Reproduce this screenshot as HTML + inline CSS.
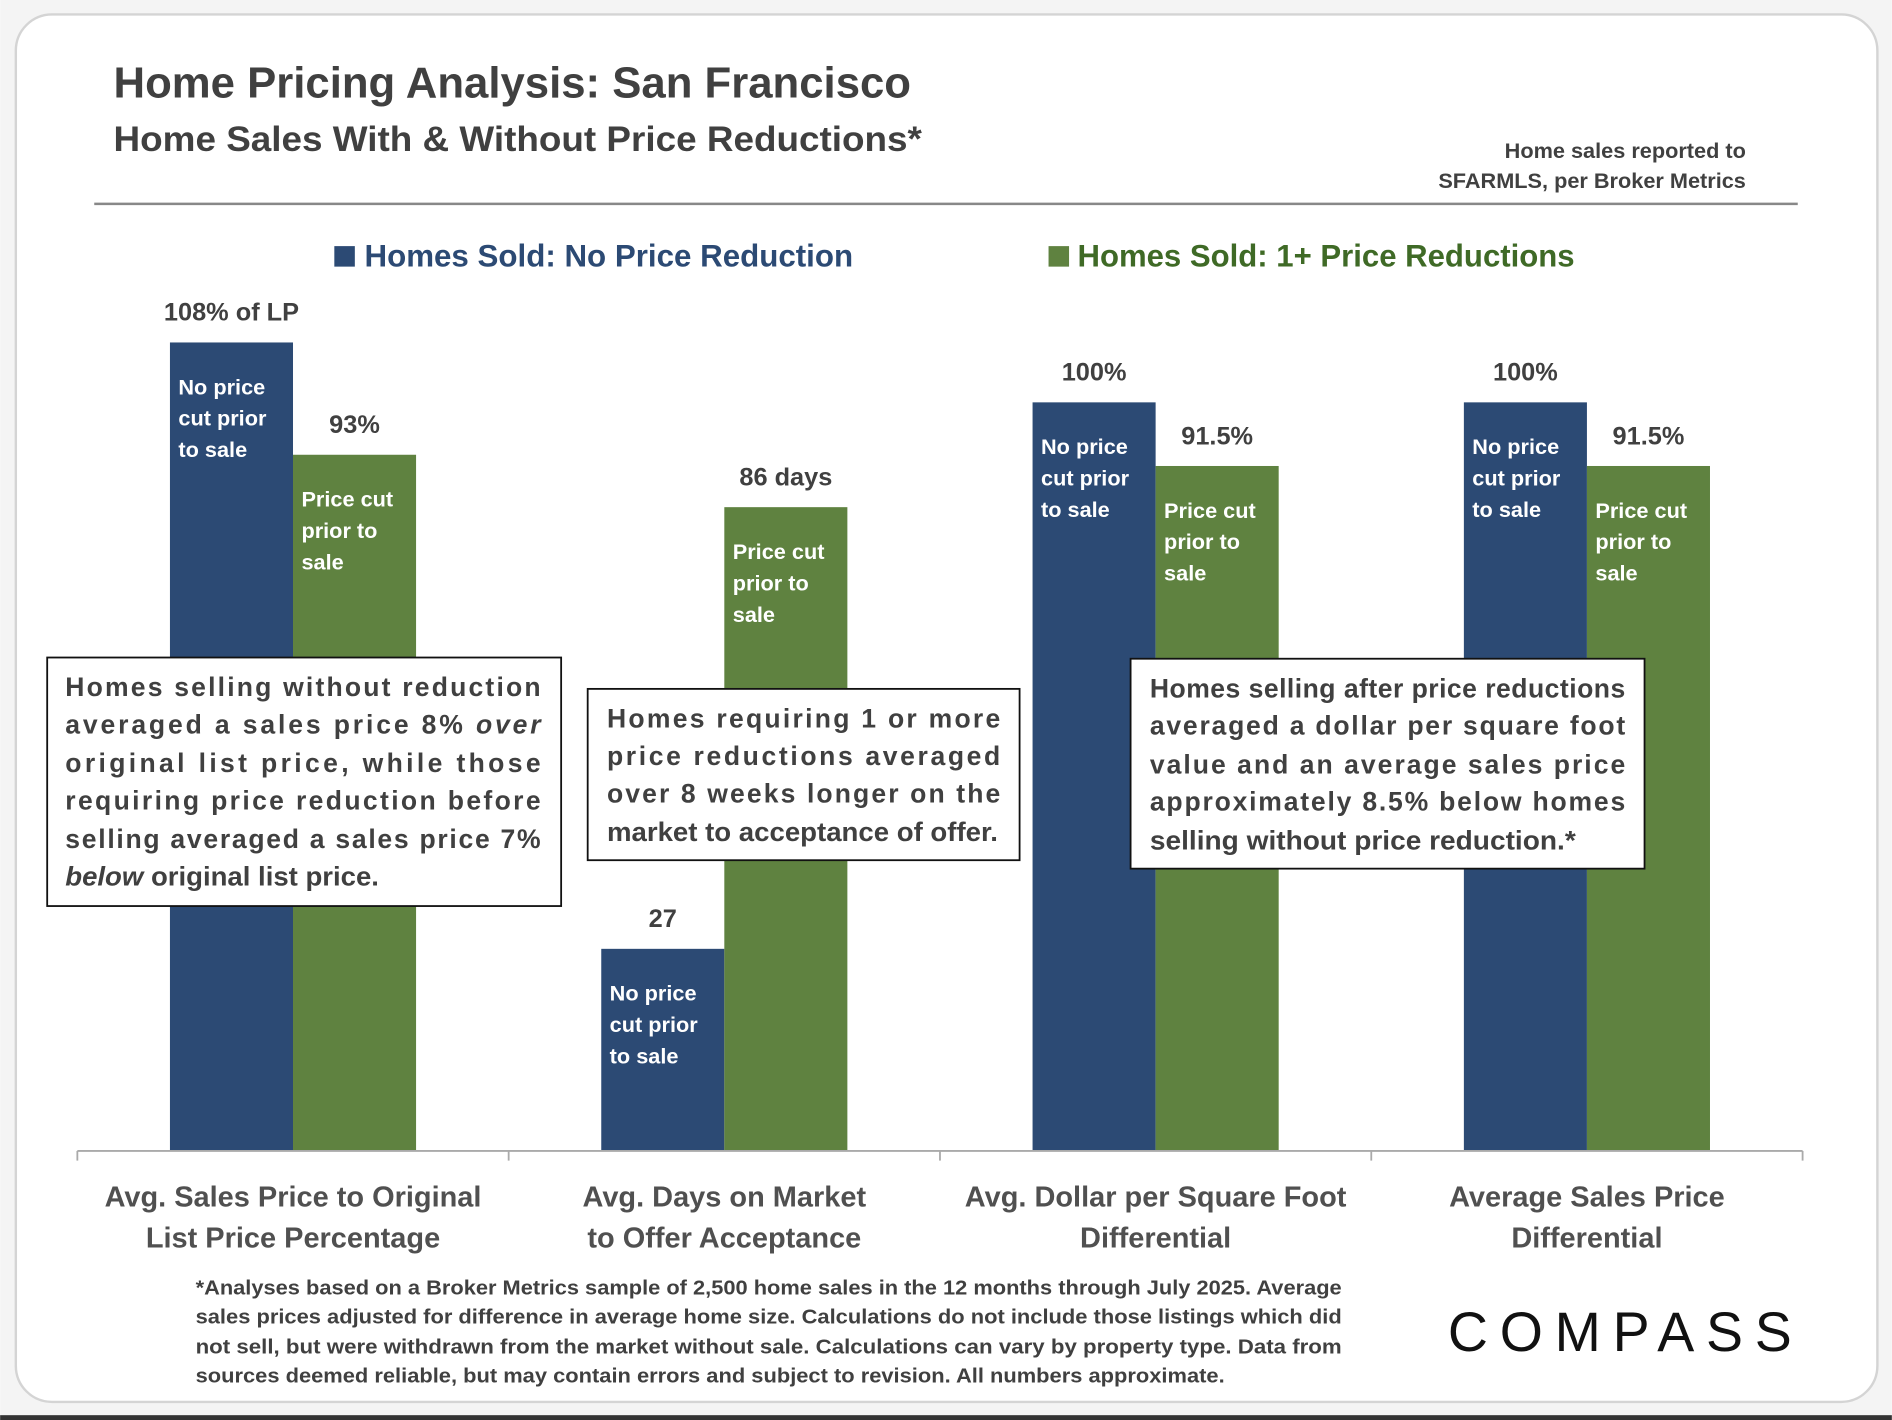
<!DOCTYPE html>
<html><head><meta charset="utf-8">
<style>
html,body{margin:0;padding:0;background:#fff;}
svg{display:block;}
text{font-family:"Liberation Sans",sans-serif;}
</style></head>
<body>
<svg id="chart" width="1892" height="1420" viewBox="0 0 1568 1177" xmlns="http://www.w3.org/2000/svg">
<rect x="0" y="0" width="1568" height="1177" fill="#f4f4f4"/>
<rect x="13" y="12" width="1543" height="1150" rx="30" fill="#fff" stroke="#d4d4d4" stroke-width="2"/>
<rect x="0" y="1173" width="1568" height="4" fill="#333"/>
<text x="94" y="81" font-size="36" font-weight="bold" fill="#404040" textLength="661" lengthAdjust="spacingAndGlyphs">Home Pricing Analysis: San Francisco</text>
<text x="94" y="125" font-size="29" font-weight="bold" fill="#404040" textLength="670" lengthAdjust="spacingAndGlyphs">Home Sales With &amp; Without Price Reductions*</text>
<text font-size="18" font-weight="bold" fill="#404040" text-anchor="end"><tspan x="1447" y="131">Home sales reported to</tspan><tspan x="1447" y="156">SFARMLS, per Broker Metrics</tspan></text>
<line x1="78" y1="169" x2="1490" y2="169" stroke="#888" stroke-width="2"/>
<g>
<rect x="277" y="204" width="17" height="17" fill="#2c4a74"/>
<text x="302" y="221" font-size="26" font-weight="bold" fill="#2c4a74" textLength="405" lengthAdjust="spacingAndGlyphs">Homes Sold: No Price Reduction</text>
<rect x="869" y="204" width="17" height="17" fill="#5f8240"/>
<text x="893" y="221" font-size="26" font-weight="bold" fill="#3f6a26" textLength="412" lengthAdjust="spacingAndGlyphs">Homes Sold: 1+ Price Reductions</text>
</g>
<g id="bars"></g>
<line x1="64" y1="954" x2="1494" y2="954" stroke="#aaa" stroke-width="1.5"/>
<g id="ticks"></g>
<g id="cats"></g>
<g>
<rect x="39" y="545" width="426" height="206" fill="#fff" stroke="#111" stroke-width="1.5"/>
<g font-size="22" font-weight="bold" fill="#404040">
<text x="54" y="577" textLength="394" lengthAdjust="spacing">Homes selling without reduction</text>
<text x="54" y="608" textLength="394" lengthAdjust="spacing">averaged a sales price 8% <tspan font-style="italic">over</tspan></text>
<text x="54" y="640" textLength="394" lengthAdjust="spacing">original list price, while those</text>
<text x="54" y="671" textLength="394" lengthAdjust="spacing">requiring price reduction before</text>
<text x="54" y="703" textLength="394" lengthAdjust="spacing">selling averaged a sales price 7%</text>
<text x="54" y="734" textLength="260" lengthAdjust="spacingAndGlyphs"><tspan font-style="italic">below</tspan> original list price.</text>
</g></g>
<g>
<rect x="487" y="571" width="358" height="142" fill="#fff" stroke="#111" stroke-width="1.5"/>
<g font-size="22" font-weight="bold" fill="#404040">
<text x="503" y="603" textLength="326" lengthAdjust="spacing">Homes requiring 1 or more</text>
<text x="503" y="634" textLength="326" lengthAdjust="spacing">price reductions  averaged</text>
<text x="503" y="665" textLength="326" lengthAdjust="spacing">over 8 weeks longer on the</text>
<text x="503" y="697" textLength="324" lengthAdjust="spacingAndGlyphs">market to acceptance of offer.</text>
</g></g>
<g>
<rect x="937" y="546" width="426" height="174" fill="#fff" stroke="#111" stroke-width="1.5"/>
<g font-size="22" font-weight="bold" fill="#404040">
<text x="953" y="578" textLength="394" lengthAdjust="spacing">Homes selling after price reductions</text>
<text x="953" y="609" textLength="394" lengthAdjust="spacing">averaged a dollar per square foot</text>
<text x="953" y="641" textLength="394" lengthAdjust="spacing">value and an average sales price</text>
<text x="953" y="672" textLength="394" lengthAdjust="spacing">approximately 8.5% below homes</text>
<text x="953" y="704" textLength="353" lengthAdjust="spacingAndGlyphs">selling without price reduction.*</text>
</g></g>
<text font-size="17" font-weight="bold" fill="#404040">
<tspan x="162" y="1073" textLength="950" lengthAdjust="spacingAndGlyphs">*Analyses based on a Broker Metrics sample of 2,500 home sales in the 12 months through July 2025. Average</tspan>
<tspan x="162" y="1097" textLength="950" lengthAdjust="spacingAndGlyphs">sales prices adjusted for difference in average home size.  Calculations do not include those listings which did</tspan>
<tspan x="162" y="1122" textLength="950" lengthAdjust="spacingAndGlyphs">not sell, but were withdrawn from the market without sale. Calculations can vary by property type. Data from</tspan>
<tspan x="162" y="1146" textLength="853" lengthAdjust="spacingAndGlyphs">sources deemed reliable,  but may contain errors and subject to revision. All numbers approximate.</tspan>
</text>
<text x="1200" y="1120" font-size="46" fill="#111" textLength="285" lengthAdjust="spacing">COMPASS</text>
</svg>
<script>
const categories = [["Avg. Sales Price to Original","List Price Percentage"],["Avg. Days on Market","to Offer Acceptance"],["Avg. Dollar per Square Foot","Differential"],["Average Sales Price","Differential"]];
const noReduction = [108, 27, 100, 100];
const withReduction = [93, 86, 91.5, 91.5];
const noReductionLabels = ["108% of LP", "27", "100%", "100%"];
const withReductionLabels = ["93%", "86 days", "91.5%", "91.5%"];
const NS = "http://www.w3.org/2000/svg";
const baseY = 954, perUnit = 6.205, x0 = 64, groupW = 357.5, barW = 102;
const yScale = v => baseY - v * perUnit;
const groupCenter = i => x0 + groupW * (i + 0.5);
function mk(tag, attrs, parent, txt){const e=document.createElementNS(NS,tag);for(const k in attrs)e.setAttribute(k,attrs[k]);if(txt!==undefined)e.textContent=txt;parent.appendChild(e);return e;}
const bars = document.getElementById("bars");
const ticks = document.getElementById("ticks");
const cats = document.getElementById("cats");
for (let i = 0; i <= categories.length; i++) {
  const t = mk("line", {x1: x0 + groupW * i, x2: x0 + groupW * i, y1: baseY, y2: 962, stroke: "#aaa", "stroke-width": 1.5}, ticks);
  
  
}
const series = [
  {vals: noReduction, labels: noReductionLabels, color: "#2c4a74", inner: ["No price","cut prior","to sale"], off: -barW, name: "no-reduction"},
  {vals: withReduction, labels: withReductionLabels, color: "#5f8240", inner: ["Price cut","prior to","sale"], off: 0, name: "reduction"}
];
categories.forEach((c, i) => {
  const cx = groupCenter(i);
  series.forEach(s => {
    const x = cx + s.off, top = yScale(s.vals[i]);
    const r = mk("rect", {x: x, y: top, width: barW, height: baseY - top, fill: s.color}, bars);
    
    
    const lbl = mk("text", {x: x + barW / 2, y: top - 18, "text-anchor": "middle", "font-size": 21, "font-weight": "bold", fill: "#404040"}, bars, s.labels[i]);
    
    
    s.inner.forEach((ln, k) => {
      const t = mk("text", {x: x + 7, y: top + 43 + k * 26, "font-size": 18, "font-weight": "bold", fill: "#fff"}, bars, ln);
      
      
    });
  });
  c.forEach((ln, k) => {
    const t = mk("text", {x: cx, y: 1000 + k * 34, "text-anchor": "middle", "font-size": 24, "font-weight": "bold", fill: "#505050"}, cats, ln);
    
    
  });
});
</script>
</body></html>
